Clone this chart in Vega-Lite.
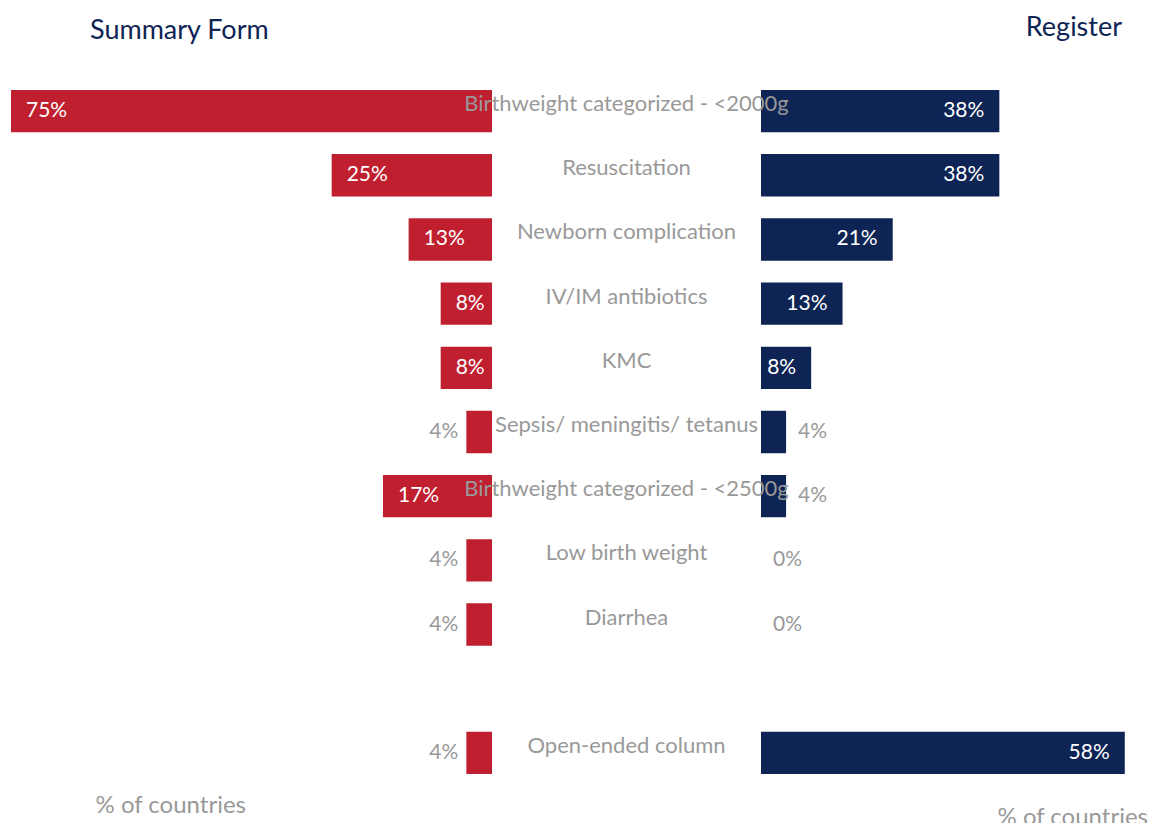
{
  "$schema": "https://vega.github.io/schema/vega-lite/v6.json",
  "autosize": {"type": "pad"},
  "padding": {"left": 11, "top": 14, "right": 0, "bottom": 0},
  "background": "white",
  "config": {
    "view": {"stroke": null},
    "font": "Lato",
    "text": {"font": "Lato"}
  },
  "datasets": {
    "rows": [
      {"item": "Birthweight categorized - <2000g", "summary": 0.75, "register": 0.38},
      {"item": "Resuscitation", "summary": 0.25, "register": 0.38},
      {"item": "Newborn complication", "summary": 0.13, "register": 0.21},
      {"item": "IV/IM antibiotics", "summary": 0.08, "register": 0.13},
      {"item": "KMC", "summary": 0.08, "register": 0.08},
      {"item": "Sepsis/ meningitis/ tetanus", "summary": 0.04, "register": 0.04},
      {"item": "Birthweight categorized - <2500g", "summary": 0.17, "register": 0.04},
      {"item": "Low birth weight", "summary": 0.04, "register": 0.0},
      {"item": "Diarrhea", "summary": 0.04, "register": 0.0},
      {"item": "Open-ended column", "summary": 0.04, "register": 0.58}
    ]
  },
  "bounds": "flush",
  "spacing": 269,
  "hconcat": [
    {
      "width": 481,
      "height": 706,
      "title": {
        "text": "Summary Form",
        "anchor": "start",
        "dx": 79,
        "offset": 34,
        "fontSize": 27,
        "fontWeight": "normal",
        "color": "#0E2454",
        "font": "Lato"
      },
      "data": {"name": "rows"},
      "encoding": {
        "y": {
          "field": "item",
          "type": "nominal",
          "sort": null,
          "scale": {
            "domain": [
              "Birthweight categorized - <2000g",
              "Resuscitation",
              "Newborn complication",
              "IV/IM antibiotics",
              "KMC",
              "Sepsis/ meningitis/ tetanus",
              "Birthweight categorized - <2500g",
              "Low birth weight",
              "Diarrhea",
              " ",
              "Open-ended column"
            ],
            "paddingInner": 0.34,
            "paddingOuter": 0.17
          },
          "axis": null
        },
        "x": {
          "field": "summary",
          "type": "quantitative",
          "scale": {"domain": [0, 0.75], "reverse": true, "nice": false},
          "axis": {
            "title": "% of countries",
            "labels": false,
            "ticks": false,
            "domain": false,
            "grid": false,
            "titleFont": "Lato",
            "titleFontSize": 24,
            "titleFontWeight": "normal",
            "titleColor": "#999999",
            "titleAlign": "left",
            "titleAnchor": "start",
            "titleBaseline": "alphabetic",
            "titleX": 84,
            "titleY": 27
          }
        }
      },
      "layer": [
        {"mark": {"type": "bar", "color": "#C01F30"}},
        {
          "transform": [{"filter": "datum.summary >= 0.08"}],
          "mark": {"type": "text", "align": "left", "baseline": "middle", "dx": 15, "fontSize": 21, "color": "white"},
          "encoding": {"text": {"field": "summary", "type": "quantitative", "format": ".0%"}}
        },
        {
          "transform": [{"filter": "datum.summary < 0.08"}],
          "mark": {"type": "text", "align": "right", "baseline": "middle", "dx": -8, "fontSize": 21, "color": "#999999"},
          "encoding": {"text": {"field": "summary", "type": "quantitative", "format": ".0%"}}
        }
      ]
    },
    {
      "width": 392,
      "height": 706,
      "title": {
        "text": "Register",
        "anchor": "end",
        "dx": -31,
        "offset": 37,
        "fontSize": 27,
        "fontWeight": "normal",
        "color": "#0E2454",
        "font": "Lato"
      },
      "data": {"name": "rows"},
      "encoding": {
        "y": {
          "field": "item",
          "type": "nominal",
          "sort": null,
          "scale": {
            "domain": [
              "Birthweight categorized - <2000g",
              "Resuscitation",
              "Newborn complication",
              "IV/IM antibiotics",
              "KMC",
              "Sepsis/ meningitis/ tetanus",
              "Birthweight categorized - <2500g",
              "Low birth weight",
              "Diarrhea",
              " ",
              "Open-ended column"
            ],
            "paddingInner": 0.34,
            "paddingOuter": 0.17
          },
          "axis": {
            "orient": "left",
            "zindex": 1,
            "title": null,
            "ticks": false,
            "domain": false,
            "grid": false,
            "labelAlign": "center",
            "labelBaseline": "middle",
            "labelPadding": 135,
            "labelOffset": -7,
            "labelFont": "Lato",
            "labelFontSize": 22,
            "labelColor": "#999999",
            "labelLimit": 0
          }
        },
        "x": {
          "field": "register",
          "type": "quantitative",
          "scale": {"domain": [0, 0.625], "nice": false},
          "axis": {
            "title": "% of countries",
            "labels": false,
            "ticks": false,
            "domain": false,
            "grid": false,
            "titleFont": "Lato",
            "titleFontSize": 24,
            "titleFontWeight": "normal",
            "titleColor": "#999999",
            "titleAlign": "left",
            "titleAnchor": "start",
            "titleBaseline": "alphabetic",
            "titleX": 236,
            "titleY": 39
          }
        }
      },
      "layer": [
        {"mark": {"type": "bar", "color": "#0E2454"}},
        {
          "transform": [{"filter": "datum.register >= 0.08"}],
          "mark": {"type": "text", "align": "right", "baseline": "middle", "dx": -15, "fontSize": 21, "color": "white"},
          "encoding": {"text": {"field": "register", "type": "quantitative", "format": ".0%"}}
        },
        {
          "transform": [{"filter": "datum.register < 0.08"}],
          "mark": {"type": "text", "align": "left", "baseline": "middle", "dx": 12, "fontSize": 21, "color": "#999999"},
          "encoding": {"text": {"field": "register", "type": "quantitative", "format": ".0%"}}
        }
      ]
    }
  ]
}
